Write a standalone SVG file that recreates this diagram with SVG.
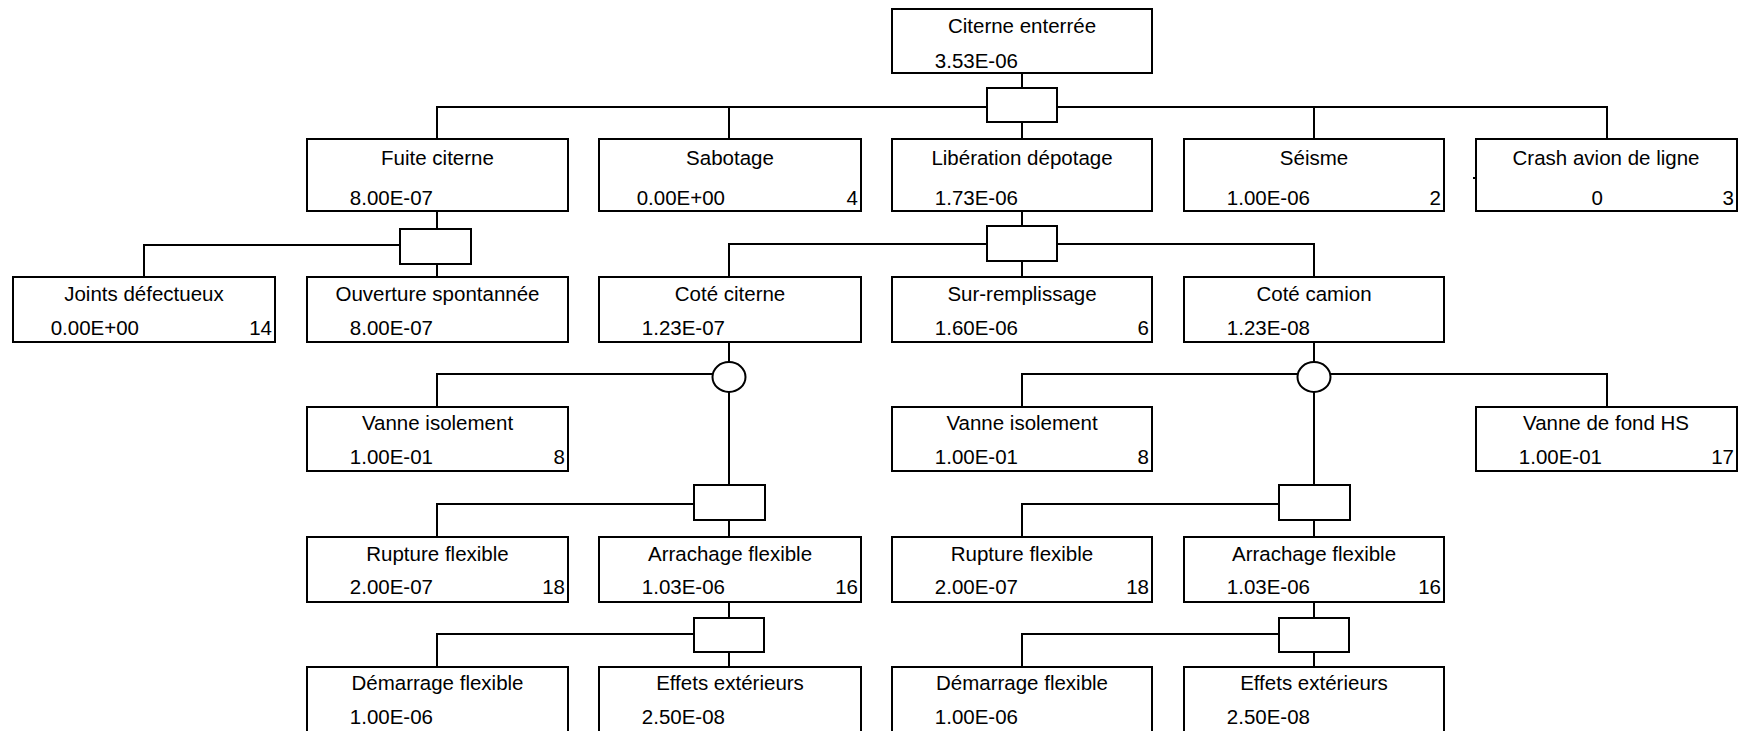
<svg xmlns="http://www.w3.org/2000/svg" width="1740" height="731" viewBox="0 0 1740 731">
<style>
.box{fill:#fff;stroke:#000;stroke-width:2}
.gate{fill:#fff;stroke:#000;stroke-width:2}
.ln{fill:none;stroke:#000;stroke-width:2}
text{font-family:"Liberation Sans",Arial,sans-serif;font-size:20.5px;fill:#000}
.t{text-anchor:middle}
.v{text-anchor:end}
.n{text-anchor:end}
</style>
<rect width="1740" height="731" fill="#fff"/>
<g id="connectors" class="ln">
<path d="M1022 73V88M1022 122V139"/>
<path d="M437 139V107H1607V139M729 107V139M1314 107V139"/>
<path d="M437 212V229M437 264V277M400 245H144V277"/>
<path d="M1022 212V226M1022 261V277M729 277V244H1314V277"/>
<path d="M729 342V362M729 392V537M729 374H437V407"/>
<path d="M694 504H437V537"/>
<path d="M729 602V667M694 634H437V667"/>
<path d="M1314 342V362M1314 392V537M1022 407V374H1607V407"/>
<path d="M1279 504H1022V537"/>
<path d="M1314 602V667M1279 634H1022V667"/>
<path d="M1473 178H1477"/>
</g>
<g id="gates">
<rect id="g0" class="gate" x="987" y="88" width="70" height="34"/>
<rect id="g1" class="gate" x="400" y="229" width="71" height="35"/>
<rect id="g2" class="gate" x="987" y="226" width="70" height="35"/>
<ellipse id="or1" class="gate" cx="729" cy="377" rx="16.5" ry="15"/>
<ellipse id="or2" class="gate" cx="1314" cy="377" rx="16.5" ry="15"/>
<rect id="g3" class="gate" x="694" y="485" width="71" height="35"/>
<rect id="g4" class="gate" x="694" y="618" width="70" height="34"/>
<rect id="g5" class="gate" x="1279" y="485" width="71" height="35"/>
<rect id="g6" class="gate" x="1279" y="618" width="70" height="34"/>
</g>
<g id="citerne"><rect class="box" x="892" y="9" width="260" height="64"/><text class="t" x="1022" y="32.5">Citerne enterrée</text><text class="v" x="1018" y="67.5">3.53E-06</text></g>
<g id="fuite"><rect class="box" x="307" y="139" width="261" height="72"/><text class="t" x="437.5" y="165">Fuite citerne</text><text class="v" x="433" y="205">8.00E-07</text></g>
<g id="sabotage"><rect class="box" x="599" y="139" width="262" height="72"/><text class="t" x="730" y="165">Sabotage</text><text class="v" x="725" y="205">0.00E+00</text><text class="n" x="858" y="205">4</text></g>
<g id="liberation"><rect class="box" x="892" y="139" width="260" height="72"/><text class="t" x="1022" y="165">Libération dépotage</text><text class="v" x="1018" y="205">1.73E-06</text></g>
<g id="seisme"><rect class="box" x="1184" y="139" width="260" height="72"/><text class="t" x="1314" y="165">Séisme</text><text class="v" x="1310" y="205">1.00E-06</text><text class="n" x="1441" y="205">2</text></g>
<g id="crash"><rect class="box" x="1476" y="139" width="261" height="72"/><text class="t" x="1606" y="165">Crash avion de ligne</text><text class="v" x="1603" y="205">0</text><text class="n" x="1734" y="205">3</text></g>
<g id="joints"><rect class="box" x="13" y="277" width="262" height="65"/><text class="t" x="144" y="300.5">Joints défectueux</text><text class="v" x="139" y="334.5">0.00E+00</text><text class="n" x="272" y="334.5">14</text></g>
<g id="ouverture"><rect class="box" x="307" y="277" width="261" height="65"/><text class="t" x="437.5" y="300.5">Ouverture spontannée</text><text class="v" x="433" y="334.5">8.00E-07</text></g>
<g id="cote-citerne"><rect class="box" x="599" y="277" width="262" height="65"/><text class="t" x="730" y="300.5">Coté citerne</text><text class="v" x="725" y="334.5">1.23E-07</text></g>
<g id="sur-remplissage"><rect class="box" x="892" y="277" width="260" height="65"/><text class="t" x="1022" y="300.5">Sur-remplissage</text><text class="v" x="1018" y="334.5">1.60E-06</text><text class="n" x="1149" y="334.5">6</text></g>
<g id="cote-camion"><rect class="box" x="1184" y="277" width="260" height="65"/><text class="t" x="1314" y="300.5">Coté camion</text><text class="v" x="1310" y="334.5">1.23E-08</text></g>
<g id="vanne-isolement-1"><rect class="box" x="307" y="407" width="261" height="64"/><text class="t" x="437.5" y="430">Vanne isolement</text><text class="v" x="433" y="464">1.00E-01</text><text class="n" x="565" y="464">8</text></g>
<g id="vanne-isolement-2"><rect class="box" x="892" y="407" width="260" height="64"/><text class="t" x="1022" y="430">Vanne isolement</text><text class="v" x="1018" y="464">1.00E-01</text><text class="n" x="1149" y="464">8</text></g>
<g id="vanne-fond"><rect class="box" x="1476" y="407" width="261" height="64"/><text class="t" x="1606" y="430">Vanne de fond HS</text><text class="v" x="1602" y="464">1.00E-01</text><text class="n" x="1734" y="464">17</text></g>
<g id="rupture-1"><rect class="box" x="307" y="537" width="261" height="65"/><text class="t" x="437.5" y="561">Rupture flexible</text><text class="v" x="433" y="594">2.00E-07</text><text class="n" x="565" y="594">18</text></g>
<g id="arrachage-1"><rect class="box" x="599" y="537" width="262" height="65"/><text class="t" x="730" y="561">Arrachage flexible</text><text class="v" x="725" y="594">1.03E-06</text><text class="n" x="858" y="594">16</text></g>
<g id="rupture-2"><rect class="box" x="892" y="537" width="260" height="65"/><text class="t" x="1022" y="561">Rupture flexible</text><text class="v" x="1018" y="594">2.00E-07</text><text class="n" x="1149" y="594">18</text></g>
<g id="arrachage-2"><rect class="box" x="1184" y="537" width="260" height="65"/><text class="t" x="1314" y="561">Arrachage flexible</text><text class="v" x="1310" y="594">1.03E-06</text><text class="n" x="1441" y="594">16</text></g>
<g id="demarrage-1"><rect class="box" x="307" y="667" width="261" height="66"/><text class="t" x="437.5" y="690">Démarrage flexible</text><text class="v" x="433" y="724">1.00E-06</text></g>
<g id="effets-1"><rect class="box" x="599" y="667" width="262" height="66"/><text class="t" x="730" y="690">Effets extérieurs</text><text class="v" x="725" y="724">2.50E-08</text></g>
<g id="demarrage-2"><rect class="box" x="892" y="667" width="260" height="66"/><text class="t" x="1022" y="690">Démarrage flexible</text><text class="v" x="1018" y="724">1.00E-06</text></g>
<g id="effets-2"><rect class="box" x="1184" y="667" width="260" height="66"/><text class="t" x="1314" y="690">Effets extérieurs</text><text class="v" x="1310" y="724">2.50E-08</text></g>
</svg>
